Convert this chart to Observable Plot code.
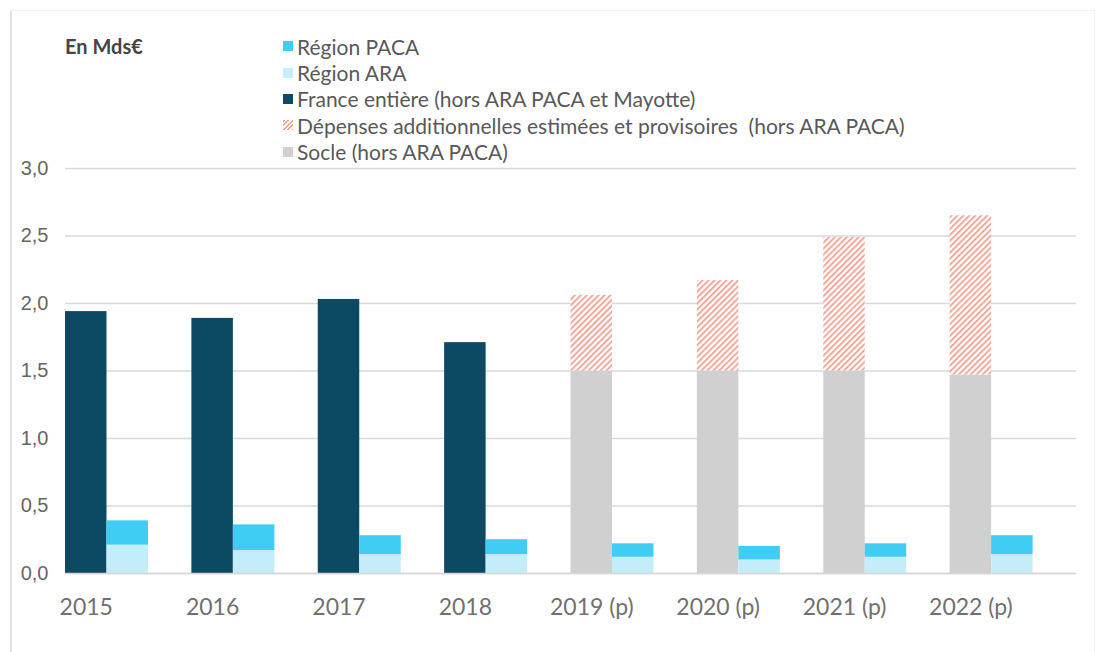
<!DOCTYPE html>
<html>
<head>
<meta charset="utf-8">
<script src="https://cdn.jsdelivr.net/npm/d3@7"></script>
<script src="https://cdn.jsdelivr.net/npm/@observablehq/plot@0.6"></script>
<style>
  html, body { margin: 0; padding: 0; background: #fff; }
  #wrap { position: relative; width: 1098px; height: 652px; overflow: hidden; background: #fff; }
  #frame { position: absolute; left: 10px; top: 10px; width: 1085px; height: 642px;
           border-left: 2px solid #e2e2e2; border-top: 1px solid #f1f1f1; border-right: 1px solid #f4f4f4; box-sizing: border-box; }
  #unit { position: absolute; left: 65px; top: 33px; font-family: Lato, sans-serif; font-weight: bold;
          font-size: 20px; color: #454545; line-height: 26px; }
  #legend { position: absolute; left: 283px; top: 33px; font-family: Lato, sans-serif; font-size: 21px; color: #595959; }
  .row { display: flex; align-items: center; height: 26.4px; white-space: pre; }
  .sw { width: 10px; height: 10px; margin-right: 4px; flex: none; }
  #chart { position: absolute; left: 0; top: 150px; }
</style>
</head>
<body>
<div id="wrap">
  <div id="frame"></div>
  <div id="unit">En Mds€</div>
  <div id="legend"></div>
  <div id="chart"></div>
</div>
<script>
// ---- Data ----
const years = ["2015", "2016", "2017", "2018", "2019 (p)", "2020 (p)", "2021 (p)", "2022 (p)"];
const franceEntiere = [1.94, 1.89, 2.03, 1.71, null, null, null, null];
const socle = [null, null, null, null, 1.50, 1.50, 1.50, 1.47];
const depensesAdd = [null, null, null, null, 0.56, 0.67, 0.99, 1.18];
const regionARA = [0.21, 0.17, 0.14, 0.14, 0.12, 0.10, 0.12, 0.14];
const regionPACA = [0.18, 0.19, 0.14, 0.11, 0.10, 0.10, 0.10, 0.14];
const yTicks = [0, 0.5, 1, 1.5, 2, 2.5, 3];

const seriesNames = [
  "Région PACA",
  "Région ARA",
  "France entière (hors ARA PACA et Mayotte)",
  "Dépenses additionnelles estimées et provisoires  (hors ARA PACA)",
  "Socle (hors ARA PACA)"
];
const seriesColors = ["#3fcdf3", "#c3eef9", "#0b4a62", "url(#hatch)", "#d0d0d0"];

// ---- Tables ----
const leftRows = [];
const rightRows = [];
years.forEach((yr, i) => {
  if (franceEntiere[i] != null) leftRows.push({year: yr, series: seriesNames[2], value: franceEntiere[i]});
  if (socle[i] != null) leftRows.push({year: yr, series: seriesNames[4], value: socle[i]});
  if (depensesAdd[i] != null) leftRows.push({year: yr, series: seriesNames[3], value: depensesAdd[i]});
  rightRows.push({year: yr, series: seriesNames[1], value: regionARA[i]});
  rightRows.push({year: yr, series: seriesNames[0], value: regionPACA[i]});
});

// ---- Legend ----
const legend = document.getElementById("legend");
seriesNames.forEach((name, i) => {
  const row = document.createElement("div");
  row.className = "row";
  const sw = document.createElement("span");
  sw.className = "sw";
  if (seriesColors[i].startsWith("url")) {
    sw.style.background = "repeating-linear-gradient(135deg, #f4a090 0 1.6px, #fff 1.6px 3.2px)";
  } else {
    sw.style.background = seriesColors[i];
  }
  const tx = document.createElement("span");
  tx.textContent = name;
  row.appendChild(sw);
  row.appendChild(tx);
  legend.appendChild(row);
});

// ---- Chart ----
const bandW = (1098 - 65 - 22) / years.length;
const barW = 41.5;
const fmt = d => d.toFixed(1).replace(".", ",");

const chart = Plot.plot({
  width: 1098,
  height: 500,
  marginLeft: 65,
  marginRight: 22,
  marginTop: 18,
  marginBottom: 77,
  style: {color: "#666", background: "transparent", overflow: "visible"},
  x: {domain: years, paddingInner: 0, paddingOuter: 0, align: 0, round: false, axis: null},
  y: {domain: [0, 3], axis: null},
  color: {domain: seriesNames, range: seriesColors},
  marks: [
    Plot.gridY(yTicks, {stroke: "#d9d9d9", strokeOpacity: 1, strokeWidth: 1.6}),
    Plot.barY(leftRows, {x: "year", y: "value", fill: "series", insetLeft: 0, insetRight: bandW - barW}),
    Plot.barY(rightRows, {x: "year", y: "value", fill: "series", insetLeft: barW, insetRight: bandW - 2 * barW}),
    Plot.ruleY([0], {stroke: "#d6d6d6", strokeWidth: 1.6}),
    Plot.axisY(yTicks, {label: null, tickSize: 0, tickPadding: 17, tickFormat: fmt, fontSize: 20, fontFamily: "Liberation Sans, Arial, sans-serif"}),
    Plot.axisX({label: null, tickSize: 0, tickPadding: 25, dx: -(bandW / 2 - barW / 2), fontSize: 23, fontFamily: "Lato, sans-serif", fill: "#707070"})
  ]
});

// hatch pattern definition
const defs = d3.select(chart).insert("defs", ":first-child");
const pat = defs.append("pattern")
  .attr("id", "hatch")
  .attr("patternUnits", "userSpaceOnUse")
  .attr("width", 4.2).attr("height", 4.2)
  .attr("patternTransform", "rotate(45)");
pat.append("rect").attr("width", 4.2).attr("height", 4.2).attr("fill", "#ffffff");
pat.append("line").attr("x1", 1).attr("x2", 1).attr("y1", 0).attr("y2", 4.2)
  .attr("stroke", "#f3a596").attr("stroke-width", 1.9);

document.getElementById("chart").appendChild(chart);
</script>
</body>
</html>
